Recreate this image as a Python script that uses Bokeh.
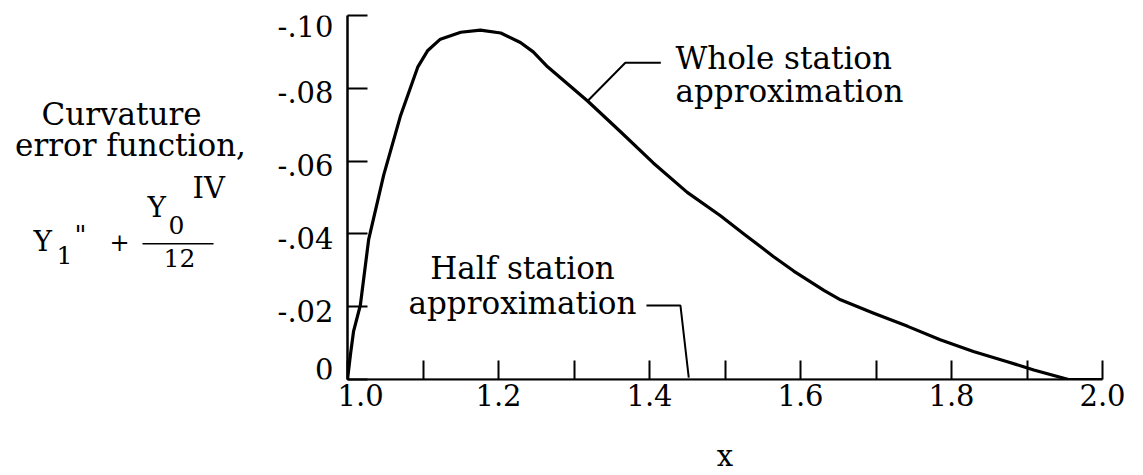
from bokeh.plotting import figure
from bokeh.models import Range1d, FixedTicker
from bokeh.layouts import row
from bokeh.embed import file_html
from bokeh.resources import INLINE
from bokeh.core.properties import value

# ---------------- data ----------------
whole_x = [1.000, 1.004, 1.008, 1.017, 1.028, 1.048, 1.070, 1.093, 1.106, 1.123,
           1.150, 1.176, 1.203, 1.229, 1.246, 1.265, 1.318, 1.362, 1.405, 1.450,
           1.494, 1.525, 1.564, 1.591, 1.631, 1.653, 1.697, 1.742, 1.785, 1.829,
           1.874, 1.909, 1.955, 2.000]
whole_y = [0.0, -0.0070, -0.0132, -0.0204, -0.0384, -0.0562, -0.0723, -0.0858, -0.0903, -0.0935,
           -0.0954, -0.0960, -0.0952, -0.0926, -0.0900, -0.0859, -0.0765, -0.0680, -0.0595, -0.0514,
           -0.0450, -0.0400, -0.0338, -0.0298, -0.0245, -0.0219, -0.0182, -0.0146, -0.0109, -0.0077,
           -0.0049, -0.0026, 0.0, 0.0]
half_x = [1.0, 1.45, 2.0]
half_y = [0.0, 0.0, 0.0]

x_major = [1.0, 1.2, 1.4, 1.6, 1.8, 2.0]
x_major_labels = ["1.0", "1.2", "1.4", "1.6", "1.8", "2.0"]
x_minor = [1.1, 1.3, 1.5, 1.7, 1.9]
y_ticks = [0.0, -0.02, -0.04, -0.06, -0.08, -0.10]
y_tick_labels = ["0", "-.02", "-.04", "-.06", "-.08", "-.10"]

# ---------------- layout constants ----------------
FONT = "DejaVu Serif"
TICK_FS = "29px"
TEXT_FS = "31px"
H = 475
LEFT_W = 337          # width of the left panel holding y tick labels and title
MAIN_W = 798
FRAME_TOP = 15        # page y of y = -0.10
FRAME_BOTTOM = 385    # page y of y = 0
YMIN, YMAX = 0.0, -0.10
PPU = (FRAME_BOTTOM - FRAME_TOP) / abs(YMAX - YMIN)


def Y(py):
    """page pixel row -> value on the shared vertical scale"""
    return -(FRAME_BOTTOM - py) / PPU


# ---------------- main plot ----------------
p = figure(width=MAIN_W, height=H, output_backend="svg", toolbar_location=None,
           x_range=Range1d(1.0, 2.0), y_range=Range1d(YMIN, YMAX),
           min_border_left=10, min_border_right=33, min_border_top=FRAME_TOP,
           min_border_bottom=H - FRAME_BOTTOM)
p.outline_line_color = None
p.grid.visible = False

xa = p.xaxis[0]
xa.ticker = FixedTicker(ticks=x_major, minor_ticks=x_minor)
xa.major_label_overrides = dict(zip(x_major, x_major_labels))
xa.major_tick_in = 19
xa.major_tick_out = 0
xa.minor_tick_in = 19
xa.minor_tick_out = 0
xa.major_tick_line_width = 2
xa.minor_tick_line_width = 2
xa.major_tick_line_color = "black"
xa.minor_tick_line_color = "black"
xa.axis_line_width = 2
xa.axis_line_color = "black"
xa.major_label_text_font = FONT
xa.major_label_text_font_size = TICK_FS
xa.major_label_text_color = "black"
xa.major_label_standoff = 4
xa.axis_label = "x"
xa.axis_label_text_font = FONT
xa.axis_label_text_font_size = TICK_FS
xa.axis_label_text_font_style = "normal"
xa.axis_label_text_color = "black"
xa.axis_label_standoff = 30

ya = p.yaxis[0]
ya.ticker = FixedTicker(ticks=y_ticks, minor_ticks=[])
ya.major_label_overrides = {t: "" for t in y_ticks}
ya.major_label_standoff = 0
ya.major_tick_in = 20
ya.major_tick_out = 0
ya.minor_tick_in = 0
ya.minor_tick_out = 0
ya.major_tick_line_width = 2
ya.major_tick_line_color = "black"
ya.axis_line_width = 2.5
ya.axis_line_color = "black"

# curves
p.line(half_x, half_y, line_color="black", line_width=1.5)
p.line(whole_x, whole_y, line_color="black", line_width=3.2, line_join="round")

# leader lines
p.line([1.318, 1.368, 1.415], [-0.0765, -0.0870, -0.0870], line_color="black", line_width=2)
p.line([1.396, 1.441, 1.452], [-0.0203, -0.0203, -0.0005], line_color="black", line_width=2)

common = dict(text_font=value(FONT), text_color="black")
p.text(x=[1.4344, 1.4344], y=[Y(58), Y(92)], text=["Whole station", "approximation"],
       text_font_size=value(TEXT_FS), text_align="left", text_baseline="alphabetic", **common)
p.text(x=[1.2318, 1.2318], y=[Y(272), Y(307)], text=["Half station", "approximation"],
       text_font_size=value(TEXT_FS), text_align="center", text_baseline="alphabetic", **common)

# ---------------- left panel: y tick labels + y title (same vertical scale) ----------------
pl = figure(width=LEFT_W, height=H, output_backend="svg", toolbar_location=None,
            x_range=Range1d(0, LEFT_W), y_range=Range1d(YMIN, YMAX),
            min_border_left=0, min_border_right=0, min_border_top=FRAME_TOP,
            min_border_bottom=H - FRAME_BOTTOM)
pl.outline_line_color = None
pl.grid.visible = False
pl.axis.visible = False

LX = 333
pl.text(x=[LX] * 4, y=y_ticks[1:5], text=y_tick_labels[1:5], text_font_size=value(TICK_FS),
        text_align="right", text_baseline="middle", y_offset=4, **common)
pl.text(x=[LX], y=[y_ticks[5]], text=[y_tick_labels[5]], text_font_size=value(TICK_FS),
        text_align="right", text_baseline="middle", y_offset=10, **common)
pl.text(x=[LX], y=[y_ticks[0]], text=[y_tick_labels[0]], text_font_size=value(TICK_FS),
        text_align="right", text_baseline="middle", y_offset=-11, **common)

# title block
pl.text(x=[121, 130], y=[Y(115), Y(147)], text=["Curvature", "error function,"],
        text_font_size=value(TEXT_FS), text_align="center", text_baseline="alphabetic", **common)
pl.text(x=[33, 147], y=[Y(245), Y(210)], text=["Y", "Y"], text_font_size=value("28px"),
        text_align="left", text_baseline="alphabetic", **common)
pl.text(x=[56, 168], y=[Y(258), Y(228)], text=["1", "0"], text_font_size=value("25px"),
        text_align="left", text_baseline="alphabetic", **common)
pl.text(x=[74], y=[Y(238)], text=['"'], text_font_size=value("26px"),
        text_align="left", text_baseline="alphabetic", **common)
pl.text(x=[109], y=[Y(245)], text=["+"], text_font_size=value("24px"),
        text_align="left", text_baseline="alphabetic", **common)
pl.text(x=[192], y=[Y(190)], text=["IV"], text_font_size=value("29px"),
        text_align="left", text_baseline="alphabetic", **common)
pl.text(x=[163], y=[Y(262)], text=["12"], text_font_size=value("25px"),
        text_align="left", text_baseline="alphabetic", **common)
pl.line([142, 213], [Y(247), Y(247)], line_color="black", line_width=1.5)

layout = row(pl, p, spacing=0)
open("out.html", "w").write(file_html(layout, INLINE))
